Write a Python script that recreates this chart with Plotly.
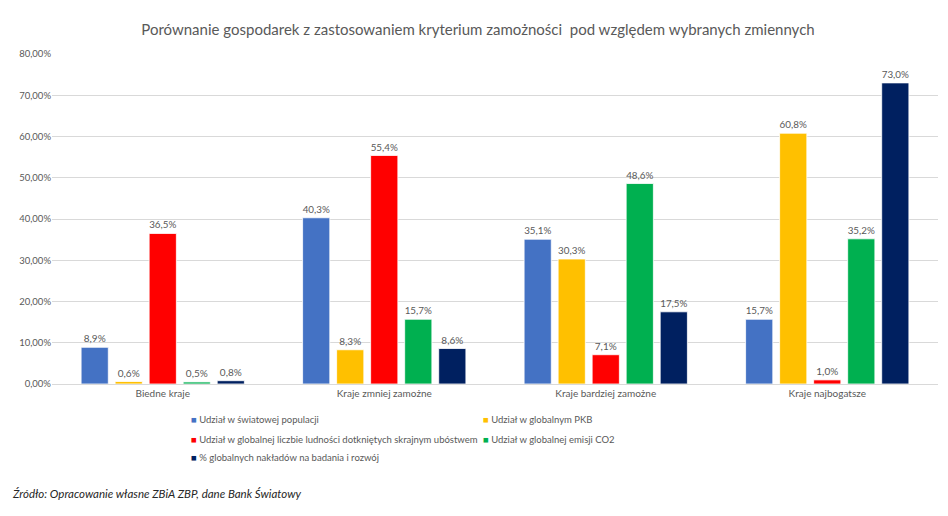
import plotly.graph_objects as go

# categories and series (values in %)
categories = ["Biedne kraje", "Kraje zmniej zamożne", "Kraje bardziej zamożne", "Kraje najbogatsze"]
series_names = [
    "Udział w światowej populacji",
    "Udział w globalnym PKB",
    "Udział w globalnej liczbie ludności dotkniętych skrajnym ubóstwem",
    "Udział w globalnej emisji CO2",
    "% globalnych nakładów na badania i rozwój",
]
populacja = [8.9, 40.3, 35.1, 15.7]
pkb = [0.6, 8.3, 30.3, 60.8]
ubostwo = [36.5, 55.4, 7.1, 1.0]
emisja = [0.5, 15.7, 48.6, 35.2]
badania = [0.8, 8.6, 17.5, 73.0]

series_values = [populacja, pkb, ubostwo, emisja, badania]
colors = ["#4472C4", "#FFC000", "#FF0000", "#00B050", "#002060"]

FONT = "Lato"
GRAY = "#595959"

fig = go.Figure()
for name, vals, col in zip(series_names, series_values, colors):
    fig.add_trace(go.Bar(
        x=categories, y=vals, name=name,
        marker=dict(color=col, line=dict(color="white", width=0.8)),
        texttemplate="%{y:.1f}%", textposition="outside",
        textfont=dict(size=10, color=GRAY, family=FONT),
        cliponaxis=False,
    ))

# legend drawn as two columns of text entries (compact squares like the original)
legend_x = [0.1546, 0.4842, 0.1546, 0.4842, 0.1546]
legend_y = [-0.109, -0.109, -0.167, -0.167, -0.224]
annotations = []
for name, col, lx, ly in zip(series_names, colors, legend_x, legend_y):
    annotations.append(dict(
        text=f"<span style='color:{col}'>■</span> {name}",
        xref="paper", yref="paper", x=lx, y=ly,
        xanchor="left", yanchor="middle", showarrow=False,
        font=dict(size=9.5, color=GRAY, family=FONT),
    ))
annotations.append(dict(
    text="<i>Źródło: Opracowanie własne ZBiA ZBP, dane Bank Światowy</i>",
    xref="paper", yref="paper", x=-0.0474, y=-0.333,
    xanchor="left", yanchor="middle", showarrow=False,
    font=dict(size=11.5, color="#262626", family=FONT),
))

fig.update_layout(
    width=940, height=508,
    separators=", ",
    barmode="group", bargap=0.232, bargroupgap=0.2,
    paper_bgcolor="white", plot_bgcolor="white",
    margin=dict(l=44, r=10, t=46, b=132),
    font=dict(family=FONT, color=GRAY),
    title=dict(
        text="Porównanie gospodarek z zastosowaniem kryterium zamożności  pod względem wybranych zmiennych",
        x=0.5, xanchor="center", y=0.957, yanchor="middle",
        font=dict(size=15, color=GRAY, family=FONT),
    ),
    showlegend=False,
    annotations=annotations,
)

fig.update_yaxes(
    range=[0, 80], dtick=10, tickformat=".2f", ticksuffix="%",
    showgrid=True, gridcolor="#D9D9D9", gridwidth=1,
    zeroline=False, showline=False,
    tickfont=dict(size=9.5, color=GRAY, family=FONT),
)
fig.update_xaxes(
    showline=True, linecolor="#D9D9D9", linewidth=1,
    tickfont=dict(size=10, color=GRAY, family=FONT),
)

fig.write_html("out.html")
